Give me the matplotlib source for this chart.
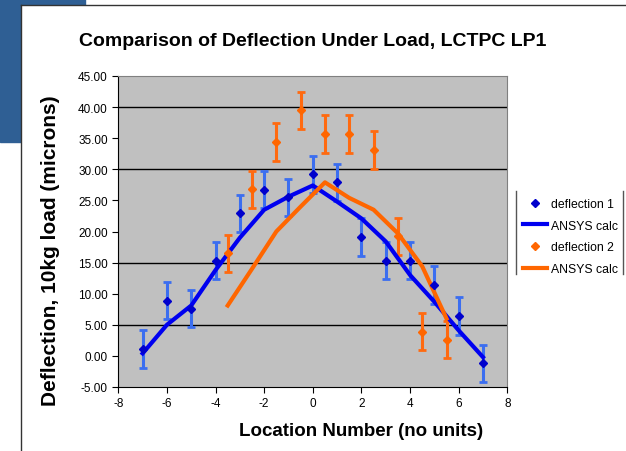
import numpy as np
import matplotlib.pyplot as plt
from matplotlib.patches import Rectangle
from matplotlib.lines import Line2D

plt.rcParams['font.family'] = ['Liberation Sans', 'DejaVu Sans']
plt.rcParams['axes.unicode_minus'] = False

# measured deflection, set 1
x1 = [-7, -6, -5, -4, -3, -2, -1, 0, 1, 2, 3, 4, 5, 6, 7]
d1 = [1.1, 8.9, 7.6, 15.3, 22.9, 26.7, 25.5, 29.2, 27.9, 19.1, 15.3, 15.3, 11.4, 6.4, -1.2]
e1 = [3.0] * 15
# ANSYS calc, set 1
a1 = [0.4, 5.0, 8.1, 13.8, 19.0, 23.5, 25.6, 27.4, 24.8, 22.1, 18.4, 13.0, 8.7, 4.1, -0.2]

# measured deflection, set 2
x2 = [-3.5, -2.5, -1.5, -0.5, 0.5, 1.5, 2.5, 3.5, 4.5, 5.5]
d2 = [16.5, 26.8, 34.4, 39.5, 35.7, 35.7, 33.1, 19.2, 3.9, 2.6]
e2 = [3.0] * 10
# ANSYS calc, set 2
a2 = [8.1, 14.0, 20.0, 24.0, 27.9, 25.4, 23.5, 19.7, 14.4, 6.0]

yticks = np.arange(-5, 46, 5)
grid_y = [5, 15, 30, 40]

fig = plt.figure(figsize=(6.26, 4.52), dpi=100)
W, H = 626, 452

# slide background bits
fig.add_artist(Rectangle((0, 1 - 143 / H), 85 / W, 143 / H, transform=fig.transFigure,
                         color='#2F5F94', zorder=0))
fig.add_artist(Rectangle((21 / W, 0), 1 - 21 / W, 1 - 6 / H, transform=fig.transFigure,
                         facecolor='white', edgecolor='none', zorder=1))
fig.add_artist(Line2D([21 / W, 21 / W], [0, 1 - 6 / H], transform=fig.transFigure,
                      color='#333333', lw=1, zorder=2))
fig.add_artist(Line2D([21 / W, 1], [1 - 6 / H, 1 - 6 / H], transform=fig.transFigure,
                      color='#333333', lw=1, zorder=2))

ax = fig.add_axes([118.3 / W, 1 - 388 / H, 389 / W, 311 / H])
ax.set_zorder(3)
ax.set_facecolor('#C0C0C0')

for g in grid_y:
    ax.axhline(g, color='black', lw=1, zorder=1)

ax.errorbar(x1, d1, yerr=e1, fmt='none', ecolor='#3B6EF0', elinewidth=2.2,
            capsize=3, capthick=2, zorder=3)
ax.plot(x1, a1, color='#0000F0', lw=3, zorder=4, label='ANSYS calc')
ax.plot(x1, d1, 'D', color='#0000CC', ms=4, zorder=5, label='deflection 1')

ax.errorbar(x2, d2, yerr=e2, fmt='none', ecolor='#FF6A10', elinewidth=2.2,
            capsize=3, capthick=2, zorder=3)
ax.plot(x2, a2, color='#FF6600', lw=3, zorder=4, label='ANSYS calc')
ax.plot(x2, d2, 'D', color='#FF6600', ms=4, zorder=5, label='deflection 2')

ax.set_xlim(-8, 8)
ax.set_ylim(-5, 45)
ax.set_xticks(np.arange(-8, 9, 2))
ax.set_yticks(yticks)
ax.set_yticklabels(['%.2f' % v for v in yticks])
ax.tick_params(labelsize=8.5, direction='out', length=4, color='black')

for s in ['top', 'right']:
    ax.spines[s].set_color('#808080')
for s in ['left', 'bottom']:
    ax.spines[s].set_color('black')

fig.text(313 / W, 1 - 42 / H, 'Comparison of Deflection Under Load, LCTPC LP1',
         ha='center', va='center', fontsize=14, fontweight='bold', zorder=5)
fig.text(361 / W, 1 - 432 / H, 'Location Number (no units)',
         ha='center', va='center', fontsize=13.5, fontweight='bold', zorder=5)
fig.text(51 / W, 1 - 251 / H, 'Deflection, 10kg load (microns)', rotation=90,
         ha='center', va='center', fontsize=15, fontweight='bold', zorder=5)

h, l = ax.get_legend_handles_labels()
order = [1, 0, 3, 2]
leg = fig.legend([h[i] for i in order], [l[i] for i in order],
                 loc='upper left', bbox_to_anchor=(518 / W, 1 - 194 / H),
                 frameon=False, fontsize=8.8, handlelength=2.0, handletextpad=0.3,
                 borderaxespad=0, labelspacing=0.8)
leg.set_zorder(6)
for xx in [516, 623]:
    fig.add_artist(Line2D([xx / W, xx / W], [1 - 275 / H, 1 - 192 / H],
                          transform=fig.transFigure, color='#555555', lw=1, zorder=6))

fig.savefig('out.png', dpi=100)
